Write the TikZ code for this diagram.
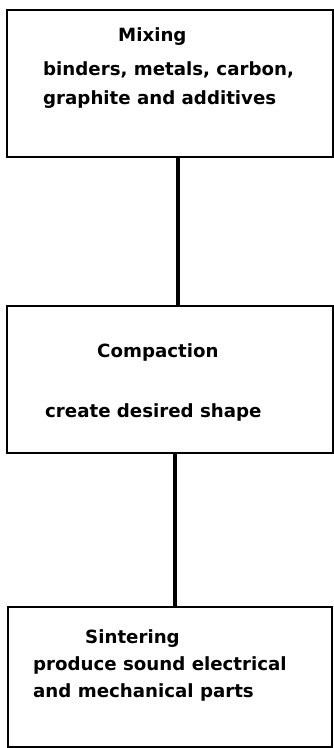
\documentclass[tikz,border=0pt]{standalone}
\usepackage{fontspec}
\setmainfont{DejaVu Sans}
\begin{document}
\begin{tikzpicture}[x=1pt,y=-1pt,
  stage/.style={draw, line width=2pt, rectangle, inner sep=0pt},
  label/.style={anchor=base west, inner sep=0pt, font=\bfseries\fontsize{18.2}{20}\selectfont},
  link/.style={line width=4.5pt}]
\useasboundingbox (0,0) rectangle (334,748);
% process stages
\node[stage, minimum width=326pt, minimum height=147pt] (mix) at (170,83.5) {};
\node[stage, minimum width=326pt, minimum height=147pt] (comp) at (170,379.5) {};
\node[stage, minimum width=324pt, minimum height=140pt] (sint) at (170,677) {};
% stage texts
\node[label] (mixT) at (118,41) {Mixing};
\node[label] (mixA) at (43,75) {binders, metals, carbon,};
\node[label] (mixB) at (43,104) {graphite and additives};
\node[label] (compT) at (97,357) {Compaction};
\node[label] (compA) at (45,417) {create desired shape};
\node[label] (sintT) at (85,643) {Sintering};
\node[label] (sintA) at (33,670) {produce sound electrical};
\node[label] (sintB) at (33,697) {and mechanical parts};
% connectors
\coordinate (j1) at (178,0);
\coordinate (j2) at (175,0);
\draw[link] (mix.south -| j1) -- (comp.north -| j1);
\draw[link] (comp.south -| j2) -- (sint.north -| j2);
\end{tikzpicture}
\end{document}
